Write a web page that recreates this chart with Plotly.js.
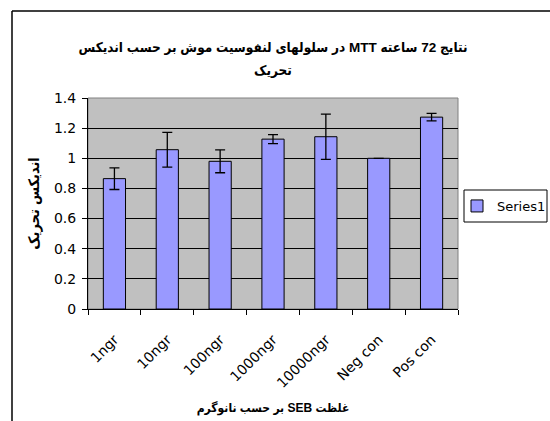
<!DOCTYPE html>
<html>
<head>
<meta charset="utf-8">
<script src="https://cdn.plot.ly/plotly-3.0.1.min.js"></script>
<style>html,body{margin:0;padding:0;background:#fff;}#chart{width:550px;height:421px;}</style>
</head>
<body>
<div id="chart"></div>
<script>
const categories = ["1ngr", "10ngr", "100ngr", "1000ngr", "10000ngr", "Neg con", "Pos con"];
const values = [0.865, 1.057, 0.98, 1.127, 1.143, 1.0, 1.273];
const errors = [0.072, 0.115, 0.076, 0.03, 0.15, 0, 0.025];
const seriesName = "Series1";
const RLE = "\u202B", PDF = "\u202C";
const titleLine1 = "نتایج 72 ساعته MTT در سلولهای لنفوسیت موش بر حسب اندیکس";
const titleLine2 = "تحریک";
const yTitle = "اندیکس تحریک";
const xTitle = "غلظت SEB بر حسب نانوگرم";

const W = 550, H = 421;
const mL = 88, mR = 92, mT = 98, mB = 112;
const pw = W - mL - mR, ph = H - mT - mB;
const px = v => (v - mL) / pw;
const py = v => (H - mB - v) / ph;

const font = "DejaVu Sans, sans-serif";
const afont = "Liberation Sans, DejaVu Sans Condensed, DejaVu Sans, sans-serif";

const trace = {
  type: "bar",
  x: categories,
  y: values,
  name: seriesName,
  marker: {color: "#9999FF", line: {color: "#000000", width: 1}},
  error_y: {type: "data", array: errors, visible: true, color: "#000000", thickness: 1.3, width: 5},
  showlegend: true
};

const layout = {
  width: W, height: H,
  margin: {l: mL, r: mR, t: mT, b: mB, pad: 0, autoexpand: false},
  paper_bgcolor: "#ffffff",
  plot_bgcolor: "#C0C0C0",
  font: {family: font, size: 14, color: "#000"},
  bargap: 0.58,
  title: {
    text: "<b>" + RLE + titleLine1 + PDF + "</b>",
    font: {family: afont, size: 13.5, color: "#000"},
    x: 0.5, xref: "paper", xanchor: "center",
    y: 1 - 47 / H, yref: "container", yanchor: "middle"
  },
  annotations: [
    {text: "<b>" + RLE + titleLine2 + PDF + "</b>", xref: "paper", yref: "paper",
     x: 0.5, y: py(70), xanchor: "center", yanchor: "middle", showarrow: false,
     font: {family: afont, size: 13.5, color: "#000"}}
  ],
  xaxis: {
    type: "category",
    tickangle: -45,
    ticks: "outside", ticklen: 5, tickcolor: "#000",
    tickson: "boundaries",
    ticklabelstandoff: 16,
    showline: true, linecolor: "#000", linewidth: 1,
    showgrid: false,
    tickfont: {family: font, size: 14, color: "#000"},
    title: {text: "<b>" + RLE + xTitle + PDF + "</b>", font: {family: afont, size: 12, color: "#000"}, standoff: 13}
  },
  yaxis: {
    range: [0, 1.4], dtick: 0.2, tick0: 0,
    ticks: "outside", ticklen: 5, tickcolor: "#000",
    ticklabelstandoff: 3,
    showline: true, linecolor: "#000", linewidth: 1,
    showgrid: true, gridcolor: "#000", gridwidth: 1,
    zeroline: false,
    tickfont: {family: font, size: 14, color: "#000"},
    title: {text: "<b>" + RLE + yTitle + PDF + "</b>", font: {family: afont, size: 14.5, color: "#000"}, standoff: 10}
  },
  legend: {
    x: px(457), xanchor: "left",
    y: py(206), yanchor: "middle",
    itemwidth: 30,
    bgcolor: "rgba(0,0,0,0)", borderwidth: 0,
    font: {family: font, size: 13, color: "#000"}
  },
  shapes: [
    {type: "rect", xref: "paper", yref: "paper", x0: 0, x1: 1, y0: 0, y1: 1, line: {color: "#808080", width: 1}, layer: "below"},
    {type: "rect", xref: "paper", yref: "paper", x0: px(464), x1: px(547), y0: py(190), y1: py(222), line: {color: "#000", width: 1}, fillcolor: "rgba(0,0,0,0)"},
    {type: "line", xref: "paper", yref: "paper", x0: px(12), x1: px(12), y0: py(11), y1: py(H + 5), line: {color: "#000", width: 1.5}},
    {type: "line", xref: "paper", yref: "paper", x0: px(12), x1: px(W + 5), y0: py(11), y1: py(11), line: {color: "#000", width: 1.5}}
  ]
};

Plotly.newPlot("chart", [trace], layout, {displayModeBar: false, staticPlot: true});
</script>
</body>
</html>
